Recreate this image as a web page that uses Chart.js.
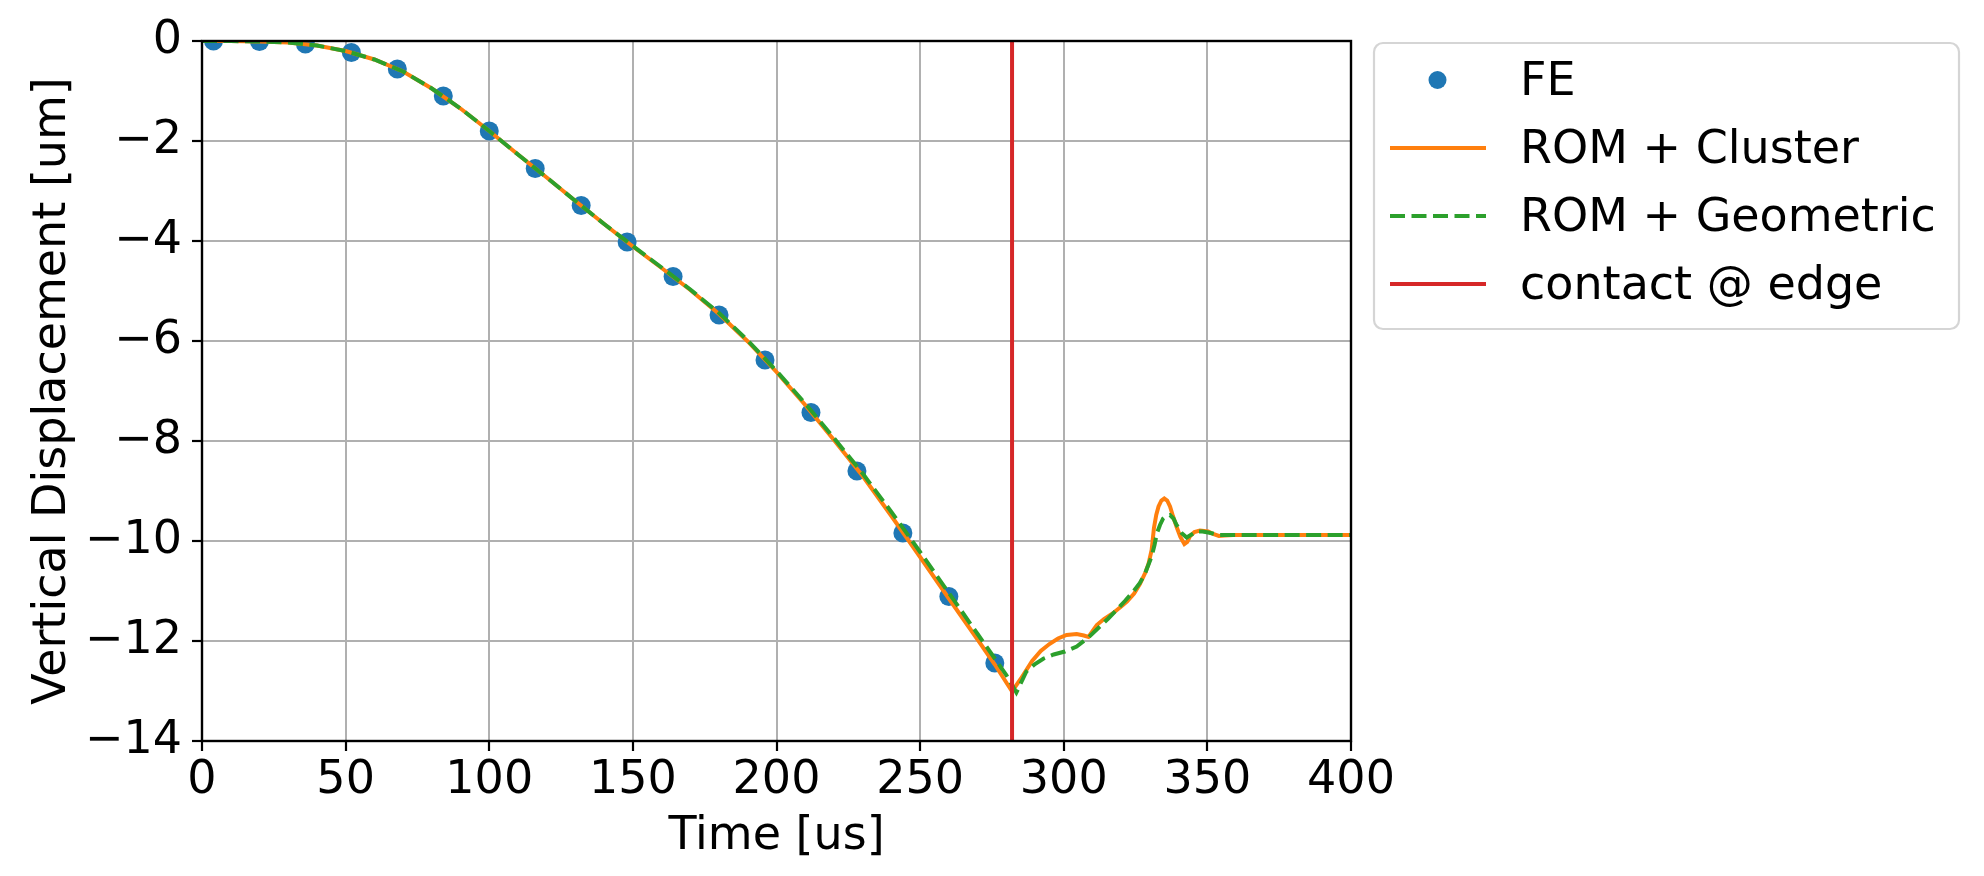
<!DOCTYPE html>
<html>
<head>
<meta charset="utf-8">
<script src="https://cdn.jsdelivr.net/npm/chart.js@4.4.1/dist/chart.umd.min.js"></script>
<style>
html,body{margin:0;padding:0;background:#fff;overflow:hidden}
#wrap{width:1984px;height:876px;position:relative}
canvas{display:block}
</style>
</head>
<body>
<div id="wrap"><canvas id="c" width="1984" height="876"></canvas></div>
<script>
// ---------------- data ----------------
const feTime = [4,20,36,52,68,84,100,116,132,148,164,180,196,212,228,244,260,276];
const feDisp = [0.0,-0.01,-0.06,-0.23,-0.56,-1.10,-1.80,-2.55,-3.29,-4.02,-4.71,-5.48,-6.38,-7.43,-8.60,-9.84,-11.11,-12.44];

const clusterTime = [0,10,20,30,40,50,60,70,80,90,100,110,120,130,140,150,160,170,180,190,200,210,220,230,240,250,260,270,276,282,
  285,289,292,295,298,301,304.5,307,308.6,311.5,314,317,320,322,324.5,326.5,328.5,329.5,330.6,331.4,332.2,333,334,335,336,337,338,339.3,340.6,342,343,344,345.5,347.4,350.3,352,354,356,359,370,400];
const clusterDisp = [0,0,-0.01,-0.03,-0.09,-0.2,-0.37,-0.61,-0.95,-1.35,-1.80,-2.27,-2.73,-3.20,-3.66,-4.11,-4.54,-4.98,-5.46,-6.01,-6.62,-7.28,-7.98,-8.70,-9.50,-10.32,-11.15,-11.97,-12.47,-13.01,
  -12.76,-12.40,-12.20,-12.06,-11.95,-11.88,-11.86,-11.89,-11.92,-11.68,-11.56,-11.45,-11.31,-11.21,-11.05,-10.86,-10.62,-10.46,-10.18,-9.74,-9.48,-9.31,-9.19,-9.15,-9.19,-9.31,-9.50,-9.72,-9.92,-10.06,-10.02,-9.90,-9.82,-9.79,-9.81,-9.86,-9.90,-9.89,-9.88,-9.88,-9.88];

const geoTime = [0,10,20,30,40,50,60,70,80,90,100,110,120,130,140,150,160,170,180,190,200,210,220,230,240,250,260,270,280,283.5,
  287,290,293,296.5,300.4,304.5,308.6,312.6,315.5,318.4,321.3,324.2,326.5,328.3,330.6,331.6,332.4,333.5,334.6,335.8,337,338.2,339.3,341,342.8,344.5,346.3,348.3,350.3,354.3,360,400];
const geoDisp = [0,0,-0.01,-0.03,-0.09,-0.2,-0.37,-0.61,-0.95,-1.35,-1.80,-2.27,-2.73,-3.20,-3.66,-4.10,-4.53,-4.97,-5.44,-5.99,-6.60,-7.25,-7.94,-8.65,-9.42,-10.22,-11.04,-11.86,-12.68,-13.03,
  -12.61,-12.46,-12.35,-12.27,-12.21,-12.11,-11.93,-11.71,-11.55,-11.38,-11.20,-11.01,-10.84,-10.65,-10.31,-10.08,-9.85,-9.68,-9.55,-9.49,-9.48,-9.55,-9.68,-9.84,-9.93,-9.87,-9.81,-9.81,-9.83,-9.88,-9.88,-9.88];

const contactTime = 282;
const yRange = [-14, 0];
const xRange = [0, 400];
const seriesLabels = ['FE', 'ROM + Cluster', 'ROM + Geometric', 'contact @ edge'];

// ---------------- helpers ----------------
const zip = (xs, ys) => xs.map((x, i) => ({x: x, y: ys[i]}));
const FONT = "'DejaVu Sans', 'Liberation Sans', sans-serif";
const FS = 46;
const C_BLUE = '#1f77b4', C_ORANGE = '#ff7f0e', C_GREEN = '#2ca02c', C_RED = '#d62728';
const DASH = [15, 6.5];

const framePlugin = {
  id: 'frame',
  afterDatasetsDraw(chart) {
    const {left, right, top, bottom} = chart.chartArea;
    const ctx = chart.ctx;
    ctx.save();
    ctx.strokeStyle = '#000';
    ctx.lineWidth = 2.4;
    ctx.strokeRect(left, top, right - left, bottom - top);
    ctx.restore();
  }
};

const legendPlugin = {
  id: 'mplLegend',
  afterDraw(chart) {
    const ctx = chart.ctx;
    const bx = 1374, by = 43, bw = 585, bh = 286, r = 9;
    ctx.save();
    ctx.beginPath();
    ctx.moveTo(bx + r, by);
    ctx.arcTo(bx + bw, by, bx + bw, by + bh, r);
    ctx.arcTo(bx + bw, by + bh, bx, by + bh, r);
    ctx.arcTo(bx, by + bh, bx, by, r);
    ctx.arcTo(bx, by, bx + bw, by, r);
    ctx.closePath();
    ctx.fillStyle = 'rgba(255,255,255,0.8)';
    ctx.fill();
    ctx.strokeStyle = '#d5d5d5';
    ctx.lineWidth = 2.2;
    ctx.stroke();

    const rowY = [80, 148, 216, 284];
    const hx0 = 1390, hx1 = 1486, tx = 1520;
    chart.data.datasets.forEach((ds) => {
      const i = seriesLabels.indexOf(ds.label);
      if (i < 0) return;
      const y = rowY[i];
      if (ds.showLine === false) {
        ctx.beginPath();
        ctx.fillStyle = ds.backgroundColor;
        ctx.arc((hx0 + hx1) / 2 - 0.5, y, 9, 0, Math.PI * 2);
        ctx.fill();
      } else {
        ctx.beginPath();
        ctx.strokeStyle = ds.borderColor;
        ctx.lineWidth = ds.borderWidth;
        ctx.setLineDash(ds.borderDash || []);
        ctx.moveTo(hx0, y);
        ctx.lineTo(hx1, y);
        ctx.stroke();
        ctx.setLineDash([]);
      }
      ctx.fillStyle = '#000';
      ctx.font = FS + 'px ' + FONT;
      ctx.textBaseline = 'middle';
      ctx.textAlign = 'left';
      ctx.fillText(ds.label, tx, y + 3);
    });
    ctx.restore();
  }
};

const minusFmt = (v) => (v < 0 ? '\u2212' + Math.abs(v) : String(v));

new Chart(document.getElementById('c'), {
  type: 'scatter',
  data: {
    datasets: [
      {
        label: seriesLabels[3],
        data: [{x: contactTime, y: yRange[1]}, {x: contactTime, y: yRange[0]}],
        showLine: true, borderColor: C_RED, backgroundColor: C_RED,
        borderWidth: 4, pointRadius: 0, order: 0
      },
      {
        label: seriesLabels[2],
        data: zip(geoTime, geoDisp),
        showLine: true, borderColor: C_GREEN, backgroundColor: C_GREEN,
        borderWidth: 4, borderDash: DASH, pointRadius: 0, tension: 0, order: 1
      },
      {
        label: seriesLabels[1],
        data: zip(clusterTime, clusterDisp),
        showLine: true, borderColor: C_ORANGE, backgroundColor: C_ORANGE,
        borderWidth: 4, pointRadius: 0, tension: 0, order: 2
      },
      {
        label: seriesLabels[0],
        data: zip(feTime, feDisp),
        showLine: false, backgroundColor: C_BLUE, borderColor: C_BLUE,
        borderWidth: 0, pointRadius: 9.5, pointHoverRadius: 9.5, order: 3
      }
    ]
  },
  options: {
    responsive: false,
    animation: false,
    devicePixelRatio: 1,
    events: [],
    layout: {padding: {left: 0, right: 633, top: 41, bottom: 0}},
    plugins: {legend: {display: false}, tooltip: {enabled: false}},
    scales: {
      x: {
        type: 'linear', min: xRange[0], max: xRange[1],
        afterFit(s) { s.height = 135; },
        ticks: {stepSize: 50, autoSkip: false, maxRotation: 0, padding: 2, color: '#000',
                font: {family: FONT, size: FS}},
        grid: {color: '#b0b0b0', lineWidth: 2, tickColor: '#000', tickLength: 10, tickWidth: 2.2, drawTicks: true},
        border: {display: false},
        title: {display: true, text: 'Time [us]', color: '#000', font: {family: FONT, size: FS},
                padding: {top: 0, bottom: 11}}
      },
      y: {
        type: 'linear', min: yRange[0], max: yRange[1],
        afterFit(s) { s.width = 202; },
        ticks: {stepSize: 2, autoSkip: false, padding: 10, color: '#000',
                font: {family: FONT, size: FS}, callback: minusFmt},
        grid: {color: '#b0b0b0', lineWidth: 2, tickColor: '#000', tickLength: 10, tickWidth: 2.2, drawTicks: true},
        border: {display: false},
        title: {display: true, text: 'Vertical Displacement [um]', color: '#000', font: {family: FONT, size: FS},
                padding: {top: 25, bottom: 0}}
      }
    }
  },
  plugins: [framePlugin, legendPlugin]
});
</script>
</body>
</html>
